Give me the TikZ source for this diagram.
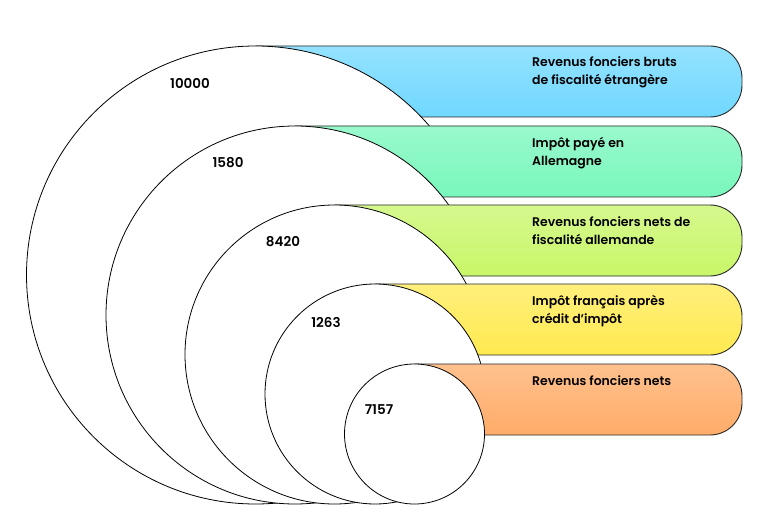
\documentclass[tikz,border=0pt]{standalone}
\usepackage{fontspec}
\setmainfont{Poppins}[BoldFont={Poppins SemiBold}]
\usepackage{tikz}
\usetikzlibrary{positioning}
\definecolor{bandblue}{RGB}{112,216,255}
\definecolor{bandmint}{RGB}{120,247,188}
\definecolor{bandlime}{RGB}{200,246,104}
\definecolor{bandyellow}{RGB}{255,234,80}
\definecolor{bandorange}{RGB}{255,172,104}
\definecolor{edgedark}{RGB}{40,40,40}

\begin{document}
\begin{tikzpicture}[x=1pt, y=-1pt,
    every node/.style={font=\fontsize{12.5}{18}\selectfont\bfseries},
    band/.style={draw=edgedark, line width=0.9pt, rounded corners=32pt},
    ring/.style={circle, draw=black, line width=0.8pt, fill=white, inner sep=0pt},
    bandtext/.style={anchor=north west, align=left, inner sep=0pt},
    numtext/.style={inner sep=0pt, font=\fontsize{13.5}{16}\selectfont\bfseries}
  ]
  \useasboundingbox (0,0) rectangle (768,513);

  % each layer: white backing, band, then its circle on top
  \foreach \cx/\tp/\col [count=\i] in {255.5/46/bandblue, 295/126/bandmint,
      334.5/205/bandlime, 375/284/bandyellow, 414.5/364/bandorange} {
    \pgfmathsetmacro\bt{\tp+71}
    \pgfmathsetmacro\rad{(504-\tp)/2}
    \pgfmathsetmacro\cy{\tp+\rad}
    \fill[white] (\cx,\tp) rectangle (760,503);
    \draw[band, top color=\col!75!white, bottom color=\col]
      (\cx,\tp) -- (742,\tp) -- (742,\bt) -- (\cx,\bt);
    \node[ring, minimum size=2*\rad pt] (c\i) at (\cx,\cy) {};
  }

  % band labels
  \node[bandtext] (t1) at (532,57) {Revenus fonciers bruts\\de fiscalité étrangère};
  \node[bandtext] (t2) at (532,137) {Impôt payé en\\Allemagne};
  \node[bandtext] (t3) at (532,216) {Revenus fonciers nets de\\fiscalité allemande};
  \node[bandtext] (t4) at (532,295) {Impôt français après\\crédit d'impôt};
  \node[bandtext] (t5) at (532,375) {Revenus fonciers nets};

  % amounts
  \node[numtext] (v1) at (190,83) {10000};
  \node[numtext] (v2) at (228,163) {1580};
  \node[numtext] (v3) at (283,242) {8420};
  \node[numtext] (v4) at (326,322) {1263};
  \node[numtext] (v5) at (379,410) {7157};
\end{tikzpicture}
\end{document}
